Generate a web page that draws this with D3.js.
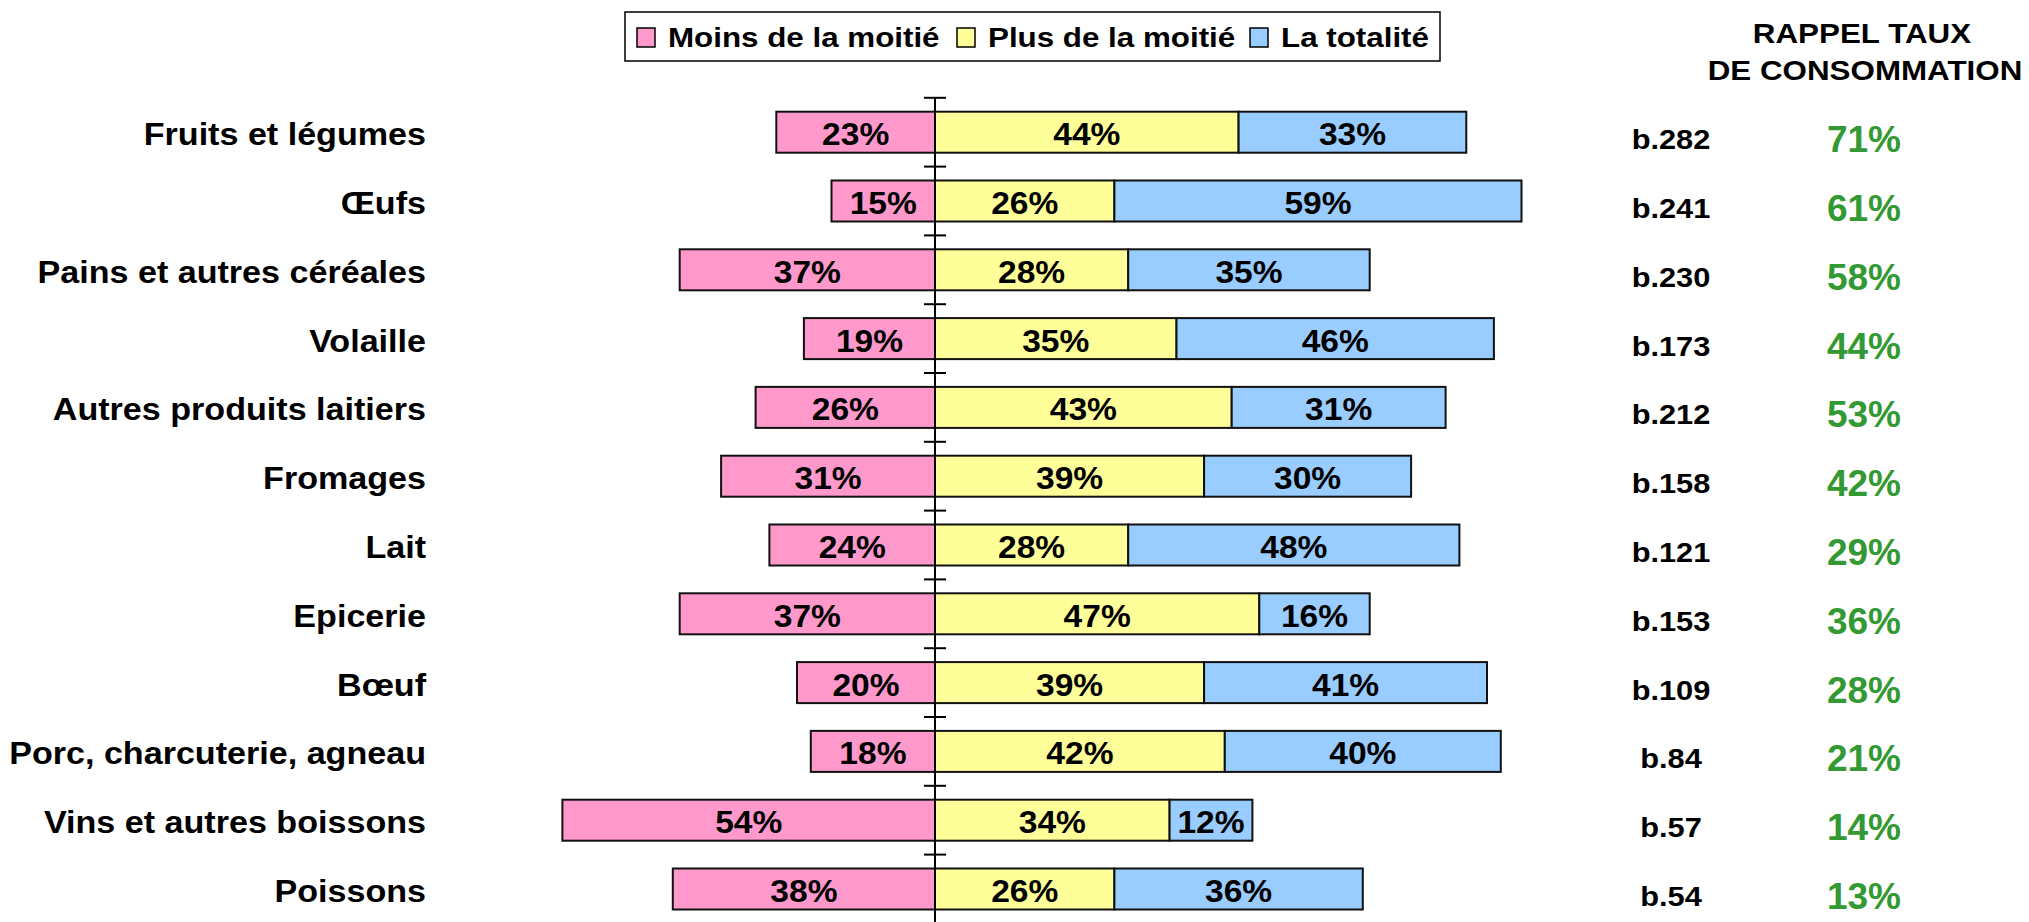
<!DOCTYPE html>
<html>
<head>
<meta charset="utf-8">
<script src="https://cdn.jsdelivr.net/npm/d3@7"></script>
<style>
  body { margin: 0; background: #fff; }
  text { font-family: "Liberation Sans", Arial, sans-serif; font-weight: bold; }
</style>
</head>
<body>
<div id="chart"></div>
<script>
// données du graphique
const categories = ["Fruits et légumes", "Œufs", "Pains et autres céréales", "Volaille",
  "Autres produits laitiers", "Fromages", "Lait", "Epicerie", "Bœuf",
  "Porc, charcuterie, agneau", "Vins et autres boissons", "Poissons"];
const moins = [23, 15, 37, 19, 26, 31, 24, 37, 20, 18, 54, 38];
const plus = [44, 26, 28, 35, 43, 39, 28, 47, 39, 42, 34, 26];
const totalite = [33, 59, 35, 46, 31, 30, 48, 16, 41, 40, 12, 36];
const bases = ["b.282", "b.241", "b.230", "b.173", "b.212", "b.158", "b.121", "b.153", "b.109", "b.84", "b.57", "b.54"];
const taux = [71, 61, 58, 44, 53, 42, 29, 36, 28, 21, 14, 13];
const series = ["Moins de la moitié", "Plus de la moitié", "La totalité"];
const couleurs = ["#FF99CC", "#FFFF99", "#99CCFF"];

const width = 2029;
const height = 922;

const svg = d3.select("#chart")
  .append("svg")
  .attr("width", width)
  .attr("height", height);

const x = d3.scaleLinear().domain([-60, 100]).range([521, 1625]);
const y = d3.scaleBand()
  .domain(categories)
  .range([97.8, 923.4])
  .paddingInner(0.404)
  .paddingOuter(0.202);

// texte légèrement étiré horizontalement comme dans l'original
function texte(g, tx, ty, sx, str) {
  return g.append("text")
    .attr("transform", `translate(${tx},${ty}) scale(${sx},1)`)
    .text(str);
}

// segments empilés
const lignes = categories.map((c, i) => {
  const m = moins[i], p = plus[i], t = totalite[i];
  return [
    { cat: c, x0: -m, x1: 0, v: m, s: 0 },
    { cat: c, x0: 0, x1: p, v: p, s: 1 },
    { cat: c, x0: p, x1: p + t, v: t, s: 2 }
  ];
}).flat();

const barres = svg.append("g");
barres.selectAll("rect")
  .data(lignes)
  .join("rect")
  .attr("x", d => x(d.x0))
  .attr("y", d => y(d.cat))
  .attr("width", d => x(d.x1) - x(d.x0))
  .attr("height", y.bandwidth())
  .attr("fill", d => couleurs[d.s])
  .attr("stroke", "#111")
  .attr("stroke-width", 2);

lignes.forEach(d => {
  texte(barres, (x(d.x0) + x(d.x1)) / 2, y(d.cat) + y.bandwidth() / 2 + 13, 1.1, d.v + "%")
    .attr("text-anchor", "middle")
    .style("font-size", "30.5px");
});

// axe central
const axe = svg.append("g");
axe.append("line")
  .attr("x1", x(0)).attr("x2", x(0))
  .attr("y1", y.range()[0]).attr("y2", height)
  .attr("stroke", "#000").attr("stroke-width", 2);
d3.range(categories.length + 1).forEach(i => {
  const ty = y.range()[0] + i * y.step();
  axe.append("line")
    .attr("x1", x(0) - 11).attr("x2", x(0) + 11)
    .attr("y1", ty).attr("y2", ty)
    .attr("stroke", "#000").attr("stroke-width", 2);
});

// libellés des catégories
const libelles = svg.append("g");
categories.forEach(c => {
  texte(libelles, 426, y(c) + y.bandwidth() / 2 + 13, 1.1, c)
    .attr("text-anchor", "end")
    .style("font-size", "31px");
});

// colonne de droite
const droite = svg.append("g");
texte(droite, 1862, 43, 1.12, "RAPPEL TAUX").attr("text-anchor", "middle").style("font-size", "28px");
texte(droite, 1865, 80, 1.12, "DE CONSOMMATION").attr("text-anchor", "middle").style("font-size", "28px");
categories.forEach((c, i) => {
  const cy = y(c) + y.bandwidth() / 2;
  texte(droite, 1671, cy + 17, 1.1, bases[i])
    .attr("text-anchor", "middle")
    .style("font-size", "28px");
  texte(droite, 1864, cy + 20, 1.0, taux[i] + "%")
    .attr("text-anchor", "middle")
    .attr("fill", "#339933")
    .style("font-size", "37px");
});

// légende
const leg = svg.append("g");
leg.append("rect")
  .attr("x", 625).attr("y", 12)
  .attr("width", 815).attr("height", 49)
  .attr("fill", "#fff").attr("stroke", "#000").attr("stroke-width", 1.5);
const legX = [637, 957, 1250];
series.forEach((s, i) => {
  leg.append("rect")
    .attr("x", legX[i]).attr("y", 28)
    .attr("width", 18).attr("height", 19)
    .attr("fill", couleurs[i]).attr("stroke", "#000").attr("stroke-width", 1.5);
  texte(leg, legX[i] + 31, 47.3, 1.1, s).style("font-size", "28.5px");
});
</script>
</body>
</html>
